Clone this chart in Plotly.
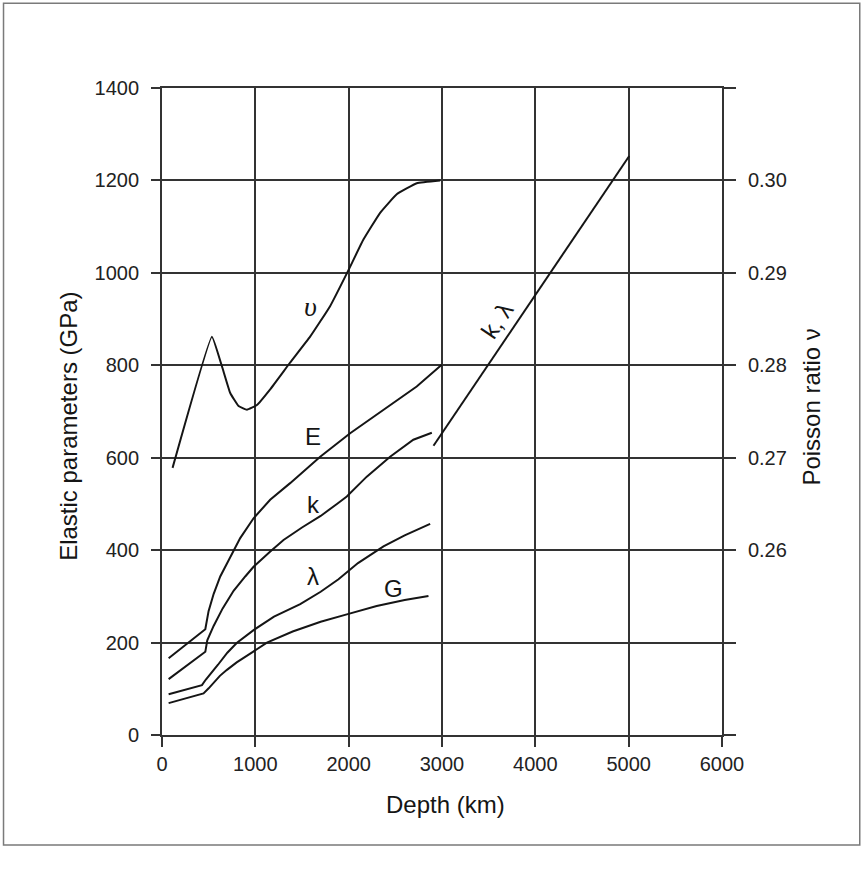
import plotly.graph_objects as go

# ---- data ----
nu_depth = [113, 535, 642, 731, 820, 910, 1017, 1159, 1373, 1587, 1801, 1998, 2158, 2337, 2515, 2730, 2980]
nu_value = [0.2689, 0.2831, 0.2799, 0.2770, 0.2756, 0.2752, 0.2757, 0.2774, 0.2803, 0.2831, 0.2864, 0.2903,
            0.2936, 0.2965, 0.2985, 0.2997, 0.3000]

E_depth = [71, 464, 499, 553, 624, 731, 838, 981, 1159, 1373, 1695, 2016, 2372, 2729, 2997]
E_value = [166, 229, 268, 305, 343, 386, 426, 469, 509, 545, 602, 653, 703, 754, 801]

k_depth = [71, 464, 485, 553, 650, 767, 892, 981, 1160, 1302, 1500, 1700, 1874, 1980, 2194, 2444, 2693, 2891]
k_value = [121, 180, 205, 236, 274, 312, 343, 364, 397, 422, 449, 474, 500, 516, 559, 602, 639, 654]

lam_depth = [71, 428, 470, 517, 600, 700, 800, 981, 1200, 1481, 1700, 1891, 2100, 2373, 2600, 2873]
lam_value = [88, 108, 120, 131, 152, 178, 199, 227, 256, 283, 310, 337, 372, 408, 432, 457]

G_depth = [71, 445, 500, 560, 620, 696, 800, 974, 1124, 1400, 1700, 1980, 2300, 2600, 2855]
G_value = [69, 90, 101, 115, 128, 141, 157, 180, 200, 224, 245, 261, 279, 292, 301]

core_depth = [2909, 5006]
core_value = [626, 1253]

x_ticks = [0, 1000, 2000, 3000, 4000, 5000, 6000]
y_ticks = [0, 200, 400, 600, 800, 1000, 1200, 1400]
nu_ticks = [0.24, 0.25, 0.26, 0.27, 0.28, 0.29, 0.30, 0.31]
nu_ticktext = ["", "", "0.26", "0.27", "0.28", "0.29", "0.30", ""]

labels = [
    ("υ", 1587, 927, 0, True),
    ("E", 1623, 646, 0, False),
    ("k", 1623, 498, 0, False),
    ("λ", 1623, 343, 0, False),
    ("G", 2479, 318, 0, False),
    ("k, λ", 3586, 898, -56, False),
]

FONT = "Liberation Sans, Arial, Helvetica, sans-serif"
SERIF = "Liberation Serif, DejaVu Serif, serif"
GRID = "#333333"
LINE = "#151515"

fig = go.Figure()
for xs, ys in [(E_depth, E_value), (k_depth, k_value), (lam_depth, lam_value),
               (G_depth, G_value), (core_depth, core_value)]:
    fig.add_trace(go.Scatter(x=xs, y=ys, mode="lines",
                             line=dict(color=LINE, width=2), showlegend=False))
fig.add_trace(go.Scatter(x=nu_depth, y=nu_value, mode="lines", yaxis="y2",
                         line=dict(color=LINE, width=2, shape="spline", smoothing=0.3),
                         showlegend=False))

for txt, x, y, ang, serif in labels:
    if serif:
        fig.add_annotation(x=x, y=y, xref="x", yref="y", text="<i>" + txt + "</i>", showarrow=False,
                           textangle=ang, font=dict(family=SERIF, size=28, color=LINE))
    else:
        fig.add_annotation(x=x, y=y, xref="x", yref="y", text=txt, showarrow=False,
                           textangle=ang, font=dict(family=FONT, size=24, color=LINE))

# axis titles
fig.add_annotation(x=-0.167, y=0.477, xref="paper", yref="paper", text="Elastic parameters (GPa)",
                   xanchor="center", yanchor="middle",
                   textangle=-90, showarrow=False, font=dict(family=FONT, size=24, color=LINE))
fig.add_annotation(x=1.160, y=0.507, xref="paper", yref="paper", text="Poisson ratio ν",
                   xanchor="center", yanchor="middle",
                   textangle=-90, showarrow=False, font=dict(family=FONT, size=24, color=LINE))
fig.add_annotation(x=0.507, y=-0.107, xref="paper", yref="paper", text="Depth (km)",
                   xanchor="center", yanchor="middle",
                   showarrow=False, font=dict(family=FONT, size=24, color=LINE))

# outer frame
fig.add_shape(type="rect", xref="paper", yref="paper", x0=-0.283, x1=1.246, y0=-0.170, y1=1.131,
              line=dict(color="#7a7a7a", width=1.5), layer="below")

fig.update_layout(
    width=863, height=871, autosize=False,
    margin=dict(l=162, r=141, t=88, b=136),
    paper_bgcolor="white", plot_bgcolor="white",
    font=dict(family=FONT, size=20, color="#222"),
    xaxis=dict(range=[0, 6000], tickvals=x_ticks, showgrid=True, gridcolor=GRID, gridwidth=1.6,
               showline=True, linecolor=GRID, linewidth=1.8, mirror=True, ticks="outside",
               ticklen=10, tickwidth=1.8, tickcolor=GRID, zeroline=False,
               tickfont=dict(size=20), ticklabelstandoff=0),
    yaxis=dict(range=[0, 1400], tickvals=y_ticks, showgrid=True, gridcolor=GRID, gridwidth=1.6,
               showline=True, linecolor=GRID, linewidth=1.8, ticks="outside", ticklen=9,
               tickwidth=1.8, tickcolor=GRID, zeroline=False, tickfont=dict(size=20),
               ticklabelstandoff=8),
    yaxis2=dict(range=[0.24, 0.31], overlaying="y", side="right", tickvals=nu_ticks,
                ticktext=nu_ticktext, showgrid=False, showline=True, linecolor=GRID, linewidth=1.8,
                ticks="outside", ticklen=12, tickwidth=1.8, tickcolor=GRID, zeroline=False,
                tickfont=dict(size=20), ticklabelstandoff=8),
)

fig.write_html("out.html", config={"displayModeBar": False},
               post_script="document.body.style.margin='0px';")
